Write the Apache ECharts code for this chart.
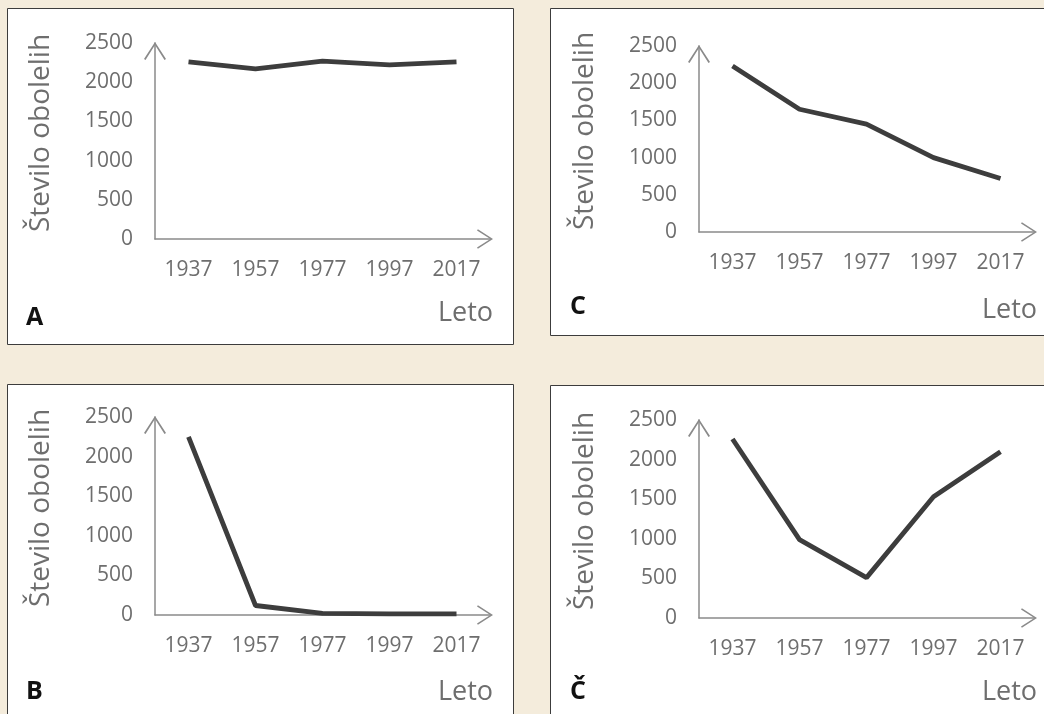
<!DOCTYPE html>
<html>
<head>
<meta charset="utf-8">
<script src="https://cdn.jsdelivr.net/npm/echarts@6/dist/echarts.min.js"></script>
<style>
html,body{margin:0;padding:0;background:#f4ecdc;}
#c{width:1044px;height:714px;}
</style>
</head>
<body>
<div id="c"></div>
<script>
// ---- data ----
const years = ['1937', '1957', '1977', '1997', '2017'];
const yMin = 0, yMax = 2500, yStep = 500;
const seriesA = [2260, 2170, 2270, 2220, 2260];
const seriesC = [2230, 1650, 1450, 1000, 720];
const seriesB = [2250, 120, 20, 15, 15];
const seriesCh = [2260, 990, 510, 1530, 2100];
const panelNames = ['A', 'C', 'B', 'Č'];
const yTitle = 'Število obolelih';
const xTitle = 'Leto';

// ---- layout / style ----
const FONT = 'Open Sans';
const TXT = '#6e6e6e';
const AX = '#8a8a8a';
const chevron = 'path://M0,17 L11,0 L22,17 L20.5,18 L11,3 L1.5,18 Z';
const panels = [
  {box:[7.5, 8.5, 506, 336], grid:{left:155, top:43, width:335, height:196}, data:seriesA, name:panelNames[0], letterY:318, letoY:313},
  {box:[550.5, 8.5, 520, 327], grid:{left:699, top:46, width:335, height:186}, data:seriesC, name:panelNames[1], letterY:307, letoY:310},
  {box:[7.5, 384.5, 506, 360], grid:{left:155, top:417, width:335, height:198}, data:seriesB, name:panelNames[2], letterY:692, letoY:692},
  {box:[550.5, 385.5, 520, 360], grid:{left:699, top:420, width:335, height:198}, data:seriesCh, name:panelNames[3], letterY:692, letoY:692}
];

const chart = echarts.init(document.getElementById('c'), null, {renderer:'canvas'});

const grids = [], xAxes = [], yAxes = [], series = [], graphics = [];
panels.forEach((p, i) => {
  graphics.push({type:'rect', z:-10, shape:{x:p.box[0], y:p.box[1], width:p.box[2], height:p.box[3]},
    style:{fill:'#ffffff', stroke:'#3c3c3c', lineWidth:1}});
  graphics.push({type:'text', x:p.grid.left - 129, y:p.letterY,
    style:{text:p.name, font:'bold 25px "' + FONT + '"', fill:'#111', textVerticalAlign:'middle', textAlign:'left'}});
  graphics.push({type:'text', x:p.grid.left + p.grid.width + 3, y:p.letoY,
    style:{text:xTitle, font:'27px "' + FONT + '"', fill:TXT, textVerticalAlign:'middle', textAlign:'right'}});
  grids.push(Object.assign({outerBoundsMode:'none', containLabel:false}, p.grid));
  xAxes.push({
    type:'category', gridIndex:i, data:years, boundaryGap:true,
    axisLine:{show:true, symbol:['none', chevron], symbolSize:[22,16], symbolOffset:[0,-5], lineStyle:{color:AX, width:1.5}},
    axisTick:{show:false},
    axisLabel:{color:TXT, fontFamily:FONT, fontSize:21, margin:21},
    splitLine:{show:false}
  });
  yAxes.push({
    type:'value', gridIndex:i, min:yMin, max:yMax, interval:yStep,
    name:yTitle, nameLocation:'middle', nameRotate:90, nameGap:100, nameMoveOverlap:false,
    nameTextStyle:{color:TXT, fontFamily:FONT, fontSize:28, padding:[0,0,0,16]},
    axisLine:{show:true, symbol:['none', chevron], symbolSize:[22,18], symbolOffset:[0,-8], lineStyle:{color:AX, width:1.5}},
    axisTick:{show:false},
    axisLabel:{color:TXT, fontFamily:FONT, fontSize:21, margin:22, formatter:(v) => String(v)},
    splitLine:{show:false}
  });
  series.push({
    type:'line', xAxisIndex:i, yAxisIndex:i, data:p.data, showSymbol:false, symbol:'none',
    lineStyle:{color:'#3d3d3d', width:4.8}, animation:false, silent:true
  });
});

chart.setOption({
  backgroundColor:'#f4ecdc',
  animation:false,
  textStyle:{fontFamily:FONT},
  grid:grids, xAxis:xAxes, yAxis:yAxes, series:series,
  graphic:{elements:graphics}
});
</script>
</body>
</html>
